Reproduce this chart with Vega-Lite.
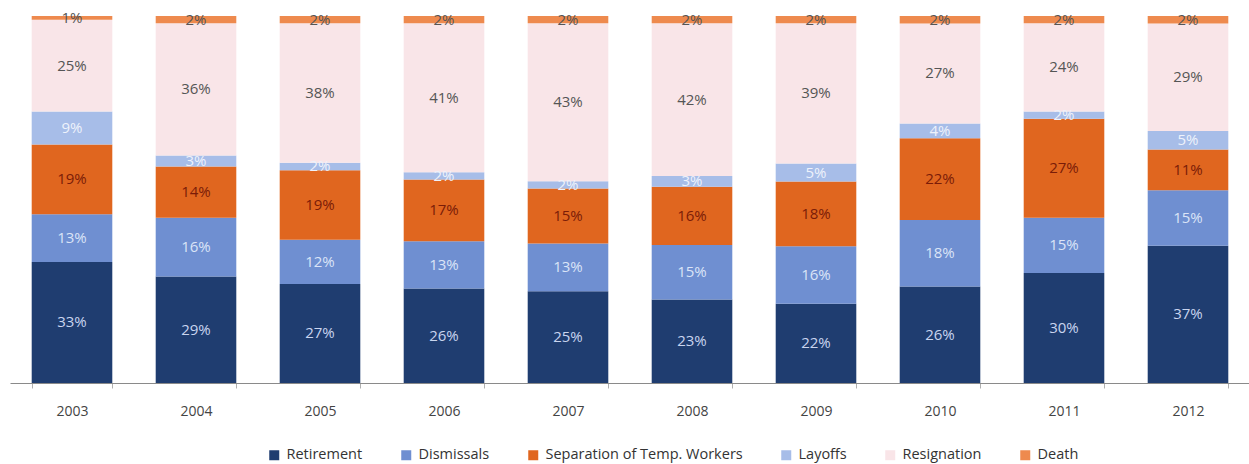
{
  "$schema": "https://vega.github.io/schema/vega-lite/v6.json",
  "width": 1240,
  "height": 367,
  "autosize": "none",
  "padding": {"left": 10, "top": 16, "right": 0, "bottom": 81},
  "background": "white",
  "config": {"view": {"stroke": null}, "font": "Open Sans"},
  "data": {"values": [
    {"year": "2003", "cat": "Retirement", "k": 1, "v": 0.33},
    {"year": "2003", "cat": "Dismissals", "k": 2, "v": 0.13},
    {"year": "2003", "cat": "Separation of Temp. Workers", "k": 3, "v": 0.19},
    {"year": "2003", "cat": "Layoffs", "k": 4, "v": 0.09},
    {"year": "2003", "cat": "Resignation", "k": 5, "v": 0.25},
    {"year": "2003", "cat": "Death", "k": 6, "v": 0.01},
    {"year": "2004", "cat": "Retirement", "k": 1, "v": 0.29},
    {"year": "2004", "cat": "Dismissals", "k": 2, "v": 0.16},
    {"year": "2004", "cat": "Separation of Temp. Workers", "k": 3, "v": 0.14},
    {"year": "2004", "cat": "Layoffs", "k": 4, "v": 0.03},
    {"year": "2004", "cat": "Resignation", "k": 5, "v": 0.36},
    {"year": "2004", "cat": "Death", "k": 6, "v": 0.02},
    {"year": "2005", "cat": "Retirement", "k": 1, "v": 0.27},
    {"year": "2005", "cat": "Dismissals", "k": 2, "v": 0.12},
    {"year": "2005", "cat": "Separation of Temp. Workers", "k": 3, "v": 0.19},
    {"year": "2005", "cat": "Layoffs", "k": 4, "v": 0.02},
    {"year": "2005", "cat": "Resignation", "k": 5, "v": 0.38},
    {"year": "2005", "cat": "Death", "k": 6, "v": 0.02},
    {"year": "2006", "cat": "Retirement", "k": 1, "v": 0.26},
    {"year": "2006", "cat": "Dismissals", "k": 2, "v": 0.13},
    {"year": "2006", "cat": "Separation of Temp. Workers", "k": 3, "v": 0.17},
    {"year": "2006", "cat": "Layoffs", "k": 4, "v": 0.02},
    {"year": "2006", "cat": "Resignation", "k": 5, "v": 0.41},
    {"year": "2006", "cat": "Death", "k": 6, "v": 0.02},
    {"year": "2007", "cat": "Retirement", "k": 1, "v": 0.25},
    {"year": "2007", "cat": "Dismissals", "k": 2, "v": 0.13},
    {"year": "2007", "cat": "Separation of Temp. Workers", "k": 3, "v": 0.15},
    {"year": "2007", "cat": "Layoffs", "k": 4, "v": 0.02},
    {"year": "2007", "cat": "Resignation", "k": 5, "v": 0.43},
    {"year": "2007", "cat": "Death", "k": 6, "v": 0.02},
    {"year": "2008", "cat": "Retirement", "k": 1, "v": 0.23},
    {"year": "2008", "cat": "Dismissals", "k": 2, "v": 0.15},
    {"year": "2008", "cat": "Separation of Temp. Workers", "k": 3, "v": 0.16},
    {"year": "2008", "cat": "Layoffs", "k": 4, "v": 0.03},
    {"year": "2008", "cat": "Resignation", "k": 5, "v": 0.42},
    {"year": "2008", "cat": "Death", "k": 6, "v": 0.02},
    {"year": "2009", "cat": "Retirement", "k": 1, "v": 0.22},
    {"year": "2009", "cat": "Dismissals", "k": 2, "v": 0.16},
    {"year": "2009", "cat": "Separation of Temp. Workers", "k": 3, "v": 0.18},
    {"year": "2009", "cat": "Layoffs", "k": 4, "v": 0.05},
    {"year": "2009", "cat": "Resignation", "k": 5, "v": 0.39},
    {"year": "2009", "cat": "Death", "k": 6, "v": 0.02},
    {"year": "2010", "cat": "Retirement", "k": 1, "v": 0.26},
    {"year": "2010", "cat": "Dismissals", "k": 2, "v": 0.18},
    {"year": "2010", "cat": "Separation of Temp. Workers", "k": 3, "v": 0.22},
    {"year": "2010", "cat": "Layoffs", "k": 4, "v": 0.04},
    {"year": "2010", "cat": "Resignation", "k": 5, "v": 0.27},
    {"year": "2010", "cat": "Death", "k": 6, "v": 0.02},
    {"year": "2011", "cat": "Retirement", "k": 1, "v": 0.30},
    {"year": "2011", "cat": "Dismissals", "k": 2, "v": 0.15},
    {"year": "2011", "cat": "Separation of Temp. Workers", "k": 3, "v": 0.27},
    {"year": "2011", "cat": "Layoffs", "k": 4, "v": 0.02},
    {"year": "2011", "cat": "Resignation", "k": 5, "v": 0.24},
    {"year": "2011", "cat": "Death", "k": 6, "v": 0.02},
    {"year": "2012", "cat": "Retirement", "k": 1, "v": 0.37},
    {"year": "2012", "cat": "Dismissals", "k": 2, "v": 0.15},
    {"year": "2012", "cat": "Separation of Temp. Workers", "k": 3, "v": 0.11},
    {"year": "2012", "cat": "Layoffs", "k": 4, "v": 0.05},
    {"year": "2012", "cat": "Resignation", "k": 5, "v": 0.29},
    {"year": "2012", "cat": "Death", "k": 6, "v": 0.02}
  ]},
  "encoding": {
    "x": {
      "field": "year", "type": "nominal",
      "scale": {"paddingInner": 0.35, "paddingOuter": 0.175},
      "axis": {
        "title": null, "labelAngle": 0, "labelFontSize": 14, "labelColor": "#444444",
        "labelPadding": 16, "domainColor": "#8a8a8a", "tickColor": "#b0b0b0",
        "tickBand": "extent", "tickSize": 5, "labelFont": "Open Sans"
      }
    },
    "order": {"field": "k", "type": "quantitative", "sort": "ascending"}
  },
  "layer": [
    {
      "mark": {"type": "bar"},
      "encoding": {
        "y": {"field": "v", "type": "quantitative", "stack": "normalize", "axis": null},
        "color": {
          "field": "cat", "type": "nominal",
          "sort": ["Retirement", "Dismissals", "Separation of Temp. Workers", "Layoffs", "Resignation", "Death"],
          "scale": {
            "domain": ["Retirement", "Dismissals", "Separation of Temp. Workers", "Layoffs", "Resignation", "Death"],
            "range": ["#1f3d70", "#6f8fd1", "#e0661f", "#a7bde8", "#f9e5e8", "#ee8a4e"]
          },
          "legend": {
            "title": null, "orient": "none", "direction": "horizontal",
            "legendX": 257, "legendY": 432, "gridAlign": "none",
            "symbolType": "square", "symbolSize": 100, "symbolStrokeWidth": 0,
            "labelFontSize": 14.5, "labelColor": "#333333", "labelFont": "Open Sans",
            "columnPadding": 36, "labelOffset": 5, "labelLimit": 300
          }
        }
      }
    },
    {
      "mark": {"type": "text", "fontSize": 15, "font": "Open Sans", "baseline": "middle"},
      "encoding": {
        "y": {"field": "v", "type": "quantitative", "stack": "normalize", "bandPosition": 0.5},
        "text": {"field": "v", "type": "quantitative", "format": ".0%"},
        "color": {
          "field": "cat", "type": "nominal",
          "sort": ["Retirement", "Dismissals", "Separation of Temp. Workers", "Layoffs", "Resignation", "Death"],
          "scale": {
            "domain": ["Retirement", "Dismissals", "Separation of Temp. Workers", "Layoffs", "Resignation", "Death"],
            "range": ["#c9d5ef", "#dbe4f7", "#7a1c08", "#eef2fb", "#555555", "#555555"]
          },
          "legend": null
        }
      }
    }
  ],
  "resolve": {"scale": {"color": "independent"}}
}
